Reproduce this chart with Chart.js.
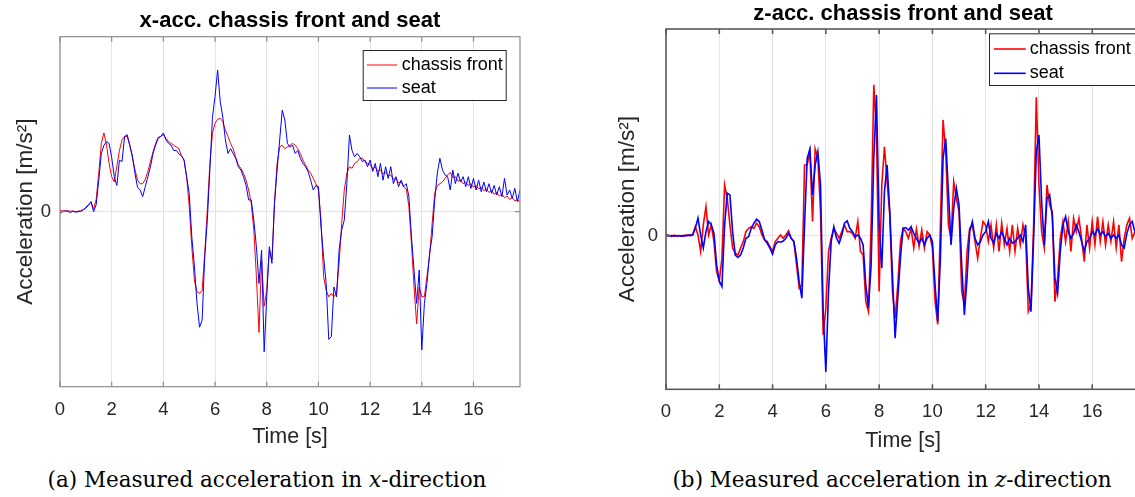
<!DOCTYPE html>
<html>
<head>
<meta charset="utf-8">
<script src="https://cdn.jsdelivr.net/npm/chart.js@4.4.1/dist/chart.umd.min.js"></script>
<style>
  html, body { margin: 0; padding: 0; background: #fff; overflow: hidden; }
  #page { position: relative; width: 1135px; height: 497px; overflow: hidden; }
  canvas { position: absolute; top: 0; }
  #xChart { left: 0; }
  #zChart { left: 580px; }
  .caption {
    position: absolute; top: 467px; white-space: nowrap; transform: translateX(-50%);
    font-family: "DejaVu Serif", "Liberation Serif", serif; font-size: 21.5px; color: #000;
  }
</style>
</head>
<body>
<div id="page">
  <canvas id="xChart" width="560" height="460"></canvas>
  <canvas id="zChart" width="580" height="460"></canvas>
  <div class="caption" style="left:267px">(a) Measured acceleration in <i>x</i>-direction</div>
  <div class="caption" style="left:892px">(b) Measured acceleration in <i>z</i>-direction</div>
</div>
<script>
// sample instants, 0.1 s apart
const TIME = Array.from({ length: 179 }, (_, i) => +(i * 0.1).toFixed(1));
const X_TICKS = [0, 2, 4, 6, 8, 10, 12, 14, 16];
const Y_TICKS = [0];

// x-acceleration (a)
const X_FRONT = [
  0.05, 0.06, 0.04, 0.05, 0.03, 0.04, 0.00, 0.03, 0.06, 0.12,
  0.20, 0.35, 0.57, 0.15, 0.70, 2.20, 3.90, 4.50, 3.80, 2.76,
  2.00, 1.70, 2.60, 3.50, 4.10, 4.30, 4.30, 3.80, 3.10, 2.40,
  1.80, 1.60, 1.60, 1.85, 2.30, 2.86, 3.43, 3.90, 4.25, 4.30,
  4.40, 4.20, 4.00, 3.90, 3.80, 3.70, 3.60, 3.20, 2.95, 2.00,
  0.30, -2.00, -3.90, -4.57, -4.67, -4.50, -2.40, 0.10, 2.76, 4.48,
  5.05, 5.28, 5.33, 5.14, 4.67, 4.30, 3.90, 3.60, 3.10, 2.67,
  2.48, 2.20, 1.80, 1.24, 0.48, -1.05, -3.70, -6.90, -2.76, -5.40,
  -4.50, -2.20, -2.76, 0.48, 2.76, 3.70, 3.80, 3.60, 3.70, 3.80,
  3.90, 3.80, 3.60, 3.33, 2.95, 2.67, 2.38, 2.20, 1.90, 1.60,
  1.24, -0.48, -3.70, -4.50, -4.86, -4.67, -4.86, -4.67, -2.95, -0.67,
  1.24, 2.20, 2.57, 2.48, 2.76, 2.86, 3.05, 3.05, 2.86, 2.76,
  2.70, 2.45, 2.55, 2.30, 2.40, 2.15, 2.25, 2.05, 2.10, 1.85,
  1.90, 1.65, 1.70, 1.40, 1.30, 0.29, -1.80, -4.30, -6.40, -4.30,
  -4.86, -4.86, -3.70, -2.57, -0.67, 1.05, 1.50, 1.60, 1.70, 1.90,
  2.10, 2.25, 1.95, 2.00, 1.75, 1.80, 1.60, 1.70, 1.50, 1.60,
  1.40, 1.50, 1.30, 1.40, 1.20, 1.30, 1.10, 1.20, 1.00, 1.10,
  0.90, 1.00, 0.80, 0.90, 0.70, 0.80, 0.62, 0.70, 0.55
];
const X_SEAT = [
  -0.10, 0.00, 0.05, 0.02, -0.05, 0.03, -0.03, 0.00, 0.02, 0.10,
  0.25, 0.40, 0.57, 0.00, 0.40, 1.80, 3.33, 3.80, 4.00, 3.90,
  3.10, 2.00, 1.50, 2.95, 2.86, 4.30, 4.40, 3.80, 3.20, 2.20,
  1.40, 1.24, 0.86, 1.43, 2.00, 2.57, 3.33, 3.80, 4.20, 4.30,
  4.50, 4.10, 3.90, 3.80, 3.50, 3.50, 3.30, 3.20, 2.95, 2.00,
  1.05, -1.43, -3.10, -5.20, -6.60, -6.20, -2.60, -0.50, 2.40, 5.40,
  6.60, 8.10, 6.30, 5.40, 4.10, 3.33, 3.60, 3.33, 3.05, 2.57,
  2.38, 2.00, 1.50, 0.67, 0.67, -0.48, -2.00, -4.10, -2.20, -8.00,
  -4.86, -2.00, -2.95, 0.48, 2.38, 4.10, 5.80, 5.24, 3.90, 3.70,
  3.80, 3.33, 3.50, 3.05, 2.76, 2.57, 2.29, 1.80, 1.24, 1.50,
  1.43, -0.86, -2.57, -4.10, -7.30, -7.14, -4.30, -4.86, -2.20, -1.05,
  -0.48, 1.60, 4.38, 3.50, 3.14, 3.33, 3.14, 2.86, 2.95, 2.57,
  2.95, 2.30, 2.76, 2.00, 2.76, 1.80, 2.57, 1.90, 2.57, 1.60,
  2.00, 1.43, 1.80, 1.43, 1.60, 0.86, -1.43, -3.33, -5.24, -3.33,
  -7.90, -5.24, -4.10, -2.38, -1.43, 0.67, 2.20, 3.05, 2.38, 2.10,
  2.00, 1.24, 2.38, 1.60, 2.20, 1.70, 2.00, 1.43, 2.00, 1.33,
  1.90, 1.24, 1.80, 1.14, 1.70, 1.14, 1.60, 1.05, 1.50, 0.95,
  1.43, 0.86, 1.90, 0.95, 1.24, 0.76, 1.33, 0.57, 1.24
];

// z-acceleration (b)
const Z_FRONT = [
  0.05, 0.00, -0.05, 0.02, -0.03, 0.00, -0.04, 0.02, 0.00, 0.05,
  0.03, 0.43, 0.03, -0.77, 0.52, 1.40, 0.03, 0.52, -0.29, -1.74,
  -2.20, -1.10, 2.45, 1.80, 0.50, -0.60, -0.85, -0.94, -0.60, -0.29,
  0.19, 0.35, 0.43, 0.35, 0.60, 0.43, 0.03, -0.20, -0.29, -0.53,
  -0.77, -0.29, -0.13, 0.03, -0.13, 0.03, 0.23, -0.13, -0.29, -1.42,
  -2.55, -2.39, 3.42, 3.42, 4.06, 0.68, 4.20, 3.74, 1.16, -4.80,
  -3.50, -0.77, -0.13, 0.35, 0.11, -0.13, 0.19, 0.52, 0.19, 0.19,
  0.11, -0.13, 0.68, -0.77, -0.94, -3.20, -3.68, 0.52, 7.30, 5.00,
  -2.70, 2.45, 4.30, 2.60, 1.00, -2.70, -4.00, -2.39, -0.29, 0.35,
  0.19, -0.13, 0.35, -0.60, 0.32, -0.53, 0.27, -0.60, 0.19, 0.03,
  -0.60, -3.20, -4.30, 0.52, 5.60, 4.06, 0.52, -0.13, 2.60, 1.80,
  1.16, -2.70, -3.35, -0.77, 0.35, 0.52, -0.29, -1.10, -0.13, 0.68,
  0.50, -0.29, 0.52, -0.60, 0.52, -0.77, 0.60, -0.45, 0.35, -0.77,
  0.52, -0.77, 0.35, -0.45, 0.52, -0.13, -3.68, -3.35, 0.52, 6.70,
  2.45, 0.19, -0.60, 2.45, 1.48, 1.16, -3.20, -2.06, -0.13, 0.68,
  -0.29, 0.68, -0.77, 0.84, 0.19, 0.84, -0.13, -1.26, 0.52, -0.60,
  0.68, -0.45, 0.92, -0.29, 0.68, -0.45, 0.52, -0.29, 0.68, -0.60,
  0.52, -1.26, -0.13, 0.52, 0.84, -0.13, 0.19, -0.29, 0.52
];
const Z_SEAT = [
  0.03, -0.02, 0.00, -0.03, 0.00, -0.02, 0.00, -0.02, 0.02, 0.00,
  0.03, 0.35, 0.84, 0.03, -0.60, 0.19, 0.68, 0.52, 0.11, -1.42,
  -2.20, -2.47, 0.50, 2.05, 1.97, 0.19, -0.94, -1.06, -0.94, -0.60,
  -0.13, -0.05, 0.35, 0.60, 0.79, 0.68, 0.27, -0.20, -0.37, -0.60,
  -0.90, -0.45, -0.29, -0.32, -0.26, -0.13, 0.11, -0.13, -0.29, -1.10,
  -2.23, -3.03, 0.52, 3.74, 4.19, 1.97, 3.42, 4.06, 2.45, -3.70,
  -6.60, -2.70, -0.29, 0.43, -0.13, -0.37, 0.03, 0.60, 0.71, 0.35,
  0.19, -0.05, 0.03, -0.13, -0.45, -2.39, -3.50, -1.42, 3.74, 6.80,
  0.52, -1.58, 2.13, 3.42, 1.16, -1.90, -4.97, -3.03, -1.10, 0.35,
  0.39, 0.27, 0.43, 0.11, -0.13, -0.37, -0.13, -0.45, -0.13, 0.03,
  -0.29, -2.39, -4.16, -1.10, 3.74, 4.70, 2.13, -0.45, 1.32, 2.29,
  1.48, -1.42, -3.84, -2.06, 0.19, 0.68, -0.13, -0.45, -0.29, 0.03,
  0.19, 0.68, -0.13, -0.37, 0.11, -0.13, 0.19, -0.13, -0.45, -0.13,
  -0.37, -0.29, -0.13, 0.03, -0.29, 0.52, -2.55, -3.68, -0.13, 4.06,
  4.87, 1.65, -0.45, 1.80, 1.97, 0.92, -2.06, -2.79, -0.77, 0.52,
  0.92, 0.19, -0.13, 0.11, 0.52, 0.19, -0.29, -0.77, -0.29, -0.13,
  0.19, 0.03, 0.35, 0.03, 0.19, -0.05, 0.11, -0.13, 0.03, -0.13,
  0.03, -0.45, -0.60, 0.11, 0.52, 0.68, 0.19, 0.03, 0.11
];

const FONT = '"Liberation Sans", Arial, Helvetica, sans-serif';

// MATLAB-style box, inward tick marks and an in-plot legend
const matlabBox = {
  id: "matlabBox",
  afterDraw(chart, args, opts) {
    const { ctx, chartArea: a, scales } = chart;
    ctx.save();
    ctx.strokeStyle = opts.color;
    ctx.lineWidth = opts.lineWidth;
    ctx.beginPath();
    scales.x.ticks.forEach((t) => {
      const px = scales.x.getPixelForValue(t.value);
      ctx.moveTo(px, a.bottom); ctx.lineTo(px, a.bottom - 5);
      ctx.moveTo(px, a.top); ctx.lineTo(px, a.top + 5);
    });
    scales.y.ticks.forEach((t) => {
      const py = scales.y.getPixelForValue(t.value);
      ctx.moveTo(a.left, py); ctx.lineTo(a.left + 5, py);
      ctx.moveTo(a.right, py); ctx.lineTo(a.right - 5, py);
    });
    ctx.stroke();
    ctx.strokeRect(a.left, a.top, a.right - a.left, a.bottom - a.top);

    const lg = opts.legend;
    ctx.fillStyle = "#fff";
    ctx.fillRect(lg.x, lg.y, lg.w, lg.h);
    ctx.strokeStyle = "#262626";
    ctx.lineWidth = 1;
    ctx.strokeRect(lg.x + 0.5, lg.y + 0.5, lg.w, lg.h);
    ctx.font = lg.size + "px " + FONT;
    ctx.textBaseline = "middle";
    chart.data.datasets.forEach((ds, i) => {
      const ry = lg.y + lg.rows[i];
      ctx.strokeStyle = ds.borderColor;
      ctx.lineWidth = ds.borderWidth;
      ctx.beginPath();
      ctx.moveTo(lg.x + lg.line[0], ry);
      ctx.lineTo(lg.x + lg.line[1], ry);
      ctx.stroke();
      ctx.fillStyle = "#000";
      ctx.fillText(ds.label, lg.x + lg.textX, ry);
    });
    ctx.restore();
  },
};

const makeChart = (id, s) => {
  const pts = (arr) => TIME.map((t, i) => ({ x: t, y: arr[i] }));
  return new Chart(document.getElementById(id), {
    type: "line",
    data: {
      datasets: [
        { label: "chassis front", data: pts(s.front), borderColor: "#ff0000", borderWidth: s.lw, order: 1 },
        { label: "seat", data: pts(s.seat), borderColor: "#0000ff", borderWidth: s.lw, order: 0 },
      ],
    },
    plugins: [matlabBox],
    options: {
      responsive: false,
      animation: false,
      devicePixelRatio: 1,
      elements: { point: { radius: 0 }, line: { tension: 0 } },
      layout: { padding: { left: 0, right: s.padRight, top: 0, bottom: 0 } },
      plugins: {
        legend: { display: false },
        tooltip: { enabled: false },
        title: {
          display: true, text: s.title, fullSize: false, color: "#000",
          font: { family: FONT, size: 22, weight: "bold" }, padding: s.titlePad,
        },
        matlabBox: { color: s.boxColor, lineWidth: s.boxWidth, legend: s.legend },
      },
      scales: {
        x: {
          type: "linear", min: 0, max: 17.8,
          afterFit: (sc) => { sc.height = s.xAxisH; },
          afterBuildTicks: (sc) => { sc.ticks = X_TICKS.map((v) => ({ value: v })); },
          grid: { drawTicks: false, color: "#e3e3e3", lineWidth: 1 },
          border: { display: false },
          ticks: { padding: s.xTickPad, color: "#262626", maxRotation: 0, autoSkip: false, font: { family: FONT, size: 18.5 } },
          title: { display: true, text: "Time [s]", color: "#262626", font: { family: FONT, size: 21.5 }, padding: { top: 0, bottom: s.xTitlePad } },
        },
        y: {
          min: s.yMin, max: s.yMax,
          afterFit: (sc) => { sc.width = s.yAxisW; },
          afterBuildTicks: (sc) => { sc.ticks = Y_TICKS.map((v) => ({ value: v })); },
          grid: { drawTicks: false, color: "#e3e3e3", lineWidth: 1 },
          border: { display: false },
          ticks: { padding: s.yTickPad, color: "#262626", font: { family: FONT, size: 18.5 } },
          title: { display: true, text: "Acceleration [m/s²]", color: "#262626", font: { family: FONT, size: 22.5 }, padding: { top: s.yTitlePad, bottom: 0 } },
        },
      },
    },
  });
};

makeChart("xChart", {
  title: "x-acc. chassis front and seat",
  front: X_FRONT, seat: X_SEAT, yMin: -10, yMax: 10, lw: 1,
  padRight: 40, titlePad: { top: 7.8, bottom: 2.5 },
  xAxisH: 73.3, xTickPad: 12.2, xTitlePad: 10.1,
  yAxisW: 60, yTickPad: 9, yTitlePad: 12.5,
  boxColor: "#8c8c8c", boxWidth: 1.2,
  legend: { x: 362.7, y: 50, w: 143, h: 50, size: 18, rows: [15, 38], line: [4.3, 34.3], textX: 39 },
});

makeChart("zChart", {
  title: "z-acc. chassis front and seat",
  front: Z_FRONT, seat: Z_SEAT, yMin: -7.44, yMax: 10, lw: 1.6,
  padRight: 19.8, titlePad: { top: 0.3, bottom: 2.3 },
  xAxisH: 70.7, xTickPad: 11.3, xTitlePad: 6.4,
  yAxisW: 86, yTickPad: 8, yTitlePad: 34.5,
  boxColor: "#5a5a5a", boxWidth: 1.6,
  legend: { x: 409, y: 33.3, w: 149, h: 51.7, size: 18, rows: [15.7, 40], line: [5, 36.7], textX: 40.7 },
});
</script>
</body>
</html>
